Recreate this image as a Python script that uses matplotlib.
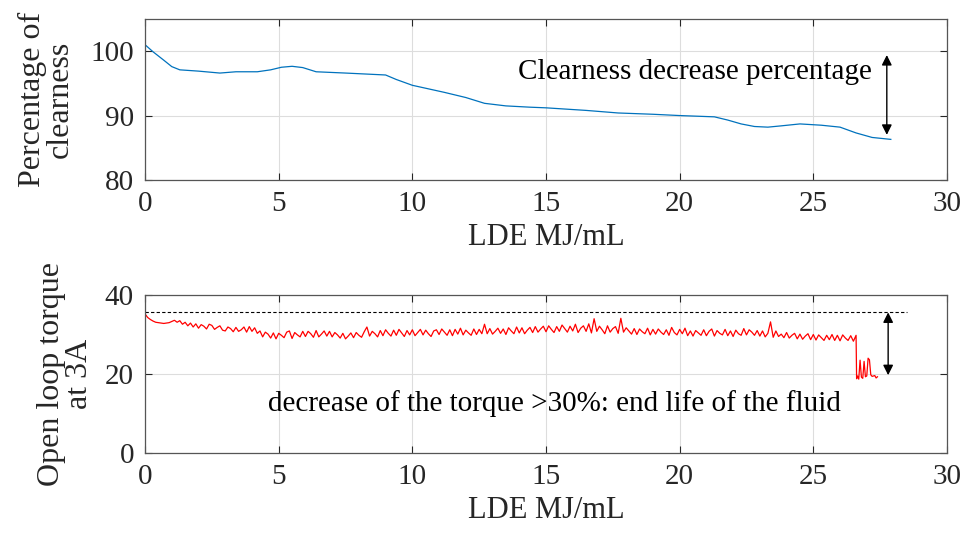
import matplotlib.pyplot as plt
import numpy as np

plt.rcParams['font.family'] = ['Liberation Serif', 'DejaVu Serif']

# clearness curve (top)
lde_clear = [0, 0.3, 0.7, 1.0, 1.3, 2.0, 2.8, 3.4, 4.2, 4.7, 5.1, 5.5, 5.9, 6.4, 7.5,
             9.0, 9.4, 10.0, 11.2, 12.0, 12.7, 13.5, 14.4, 15.0, 16.5, 17.7, 19.0, 20.0,
             21.3, 21.8, 22.3, 22.8, 23.3, 23.8, 24.5, 25.3, 26.0, 26.6, 27.2, 27.9]
clearness = [101.0, 99.9, 98.6, 97.6, 97.1, 96.9, 96.6, 96.8, 96.8, 97.1, 97.5, 97.65, 97.45,
             96.8, 96.6, 96.3, 95.6, 94.7, 93.6, 92.8, 91.9, 91.5, 91.3, 91.2, 90.8, 90.4,
             90.2, 90.0, 89.8, 89.3, 88.7, 88.3, 88.2, 88.4, 88.7, 88.5, 88.2, 87.3, 86.6, 86.3]

# open loop torque (bottom), sampled every 0.1 MJ/mL up to the drop
torque_main = [
    35.2, 34.3, 33.8, 33.4, 33.1, 33.0, 32.9, 32.8, 32.9, 33.0,
    33.3, 33.6, 33.1, 33.5, 32.6, 33.1, 32.2, 32.9, 31.9, 32.7,
    31.6, 32.5, 32.1, 31.4, 32.6, 32.3, 31.3, 31.8, 32.2, 31.1,
    30.9, 31.9, 31.5, 30.7, 31.8, 30.8, 31.2, 31.9, 30.6, 32.0,
    30.8, 31.7, 30.3, 30.9, 29.4, 30.6, 30.1, 29.1, 30.4, 28.9,
    30.3, 29.8, 29.2, 30.6, 30.9, 29.0, 30.5, 29.9, 29.4, 30.8,
    29.5, 30.8, 30.2, 29.3, 31.0, 29.4, 30.1, 30.9, 29.6, 30.8,
    29.4, 30.5, 29.9, 29.1, 30.3, 28.9, 29.6, 30.4, 29.2, 30.5,
    29.8, 29.3, 30.7, 31.9, 29.6, 30.8, 30.2, 29.4, 31.0, 29.7,
    31.2, 30.3, 29.6, 31.1, 29.8, 31.3, 30.4, 29.5, 31.0, 29.9,
    31.2, 29.7, 30.5, 31.3, 29.9, 31.1, 30.2, 29.5, 30.9, 31.2,
    30.0, 31.4, 30.6, 29.8, 31.2, 29.7, 31.3, 30.1, 31.6, 29.9,
    31.1, 30.4, 29.8, 31.4, 30.0, 31.3, 30.2, 32.6, 30.2, 31.5,
    30.1, 30.8, 31.6, 30.3, 31.4, 30.0, 31.7, 30.9, 30.2, 31.9,
    30.4, 31.7, 30.2, 31.1, 31.8, 30.5, 32.0, 30.6, 31.4, 32.1,
    30.7, 32.2, 31.3, 30.5, 32.0, 30.8, 32.4, 31.5, 30.6, 32.1,
    30.9, 32.6, 30.5, 31.6, 32.2, 30.8, 32.7, 30.4, 34.0, 30.8,
    32.1, 31.2, 30.2, 32.2, 30.6, 31.5, 32.0, 30.3, 34.1, 30.6,
    31.7, 30.9, 30.1, 31.5, 30.0, 31.4, 30.7, 30.2, 31.6, 29.9,
    31.3, 30.1, 31.4, 30.6, 30.0, 31.2, 29.8, 31.8, 30.5, 29.9,
    31.3, 30.2, 31.6, 29.7, 30.9, 29.6, 31.0, 30.4, 29.8, 31.2,
    29.7, 30.8, 31.4, 29.6, 31.0, 30.3, 29.9, 31.3, 29.7, 30.9,
    29.5, 31.1, 30.2, 29.8, 31.5, 29.9, 31.2, 30.6, 29.8, 31.0,
    29.6, 30.9, 29.4, 30.3, 33.2, 29.3, 30.9, 29.5, 30.1, 29.2,
    30.5, 29.1, 29.8, 30.3, 28.9, 30.1, 28.8, 29.6, 30.2, 28.7,
    30.0, 28.6, 29.9, 29.2, 28.5, 29.8, 28.7, 30.0, 28.5, 29.8,
    28.4, 29.9, 29.1, 28.5, 29.7, 28.3, 29.8,
]
lde_main = np.arange(len(torque_main)) * 0.1

# end of life segment
lde_tail = [26.62, 26.66, 26.70, 26.75, 26.80, 26.85, 26.90, 26.95, 27.00, 27.05,
            27.10, 27.15, 27.20, 27.30, 27.35, 27.40]
torque_tail = [18.8, 19.5, 18.7, 23.5, 19.2, 18.9, 23.2, 19.3, 19.5, 24.0,
               23.6, 19.8, 19.4, 19.6, 19.0, 19.3]

lde_torque = np.concatenate([lde_main, lde_tail])
torque = np.concatenate([torque_main, torque_tail])

ref_torque = 35.6
xticks = [0, 5, 10, 15, 20, 25, 30]

fig = plt.figure(figsize=(9.65, 5.42), dpi=100)
ax1 = fig.add_axes([0.1503, 0.668, 0.831, 0.297])
ax2 = fig.add_axes([0.1503, 0.1642, 0.831, 0.2915])

axcol = '#262626'
for ax in (ax1, ax2):
    ax.set_xlim(0, 30)
    ax.set_xticks(xticks)
    ax.grid(True, color='#dddddd', linewidth=0.8)
    ax.set_axisbelow(True)
    ax.tick_params(direction='in', top=True, right=True, labelsize=21,
                   colors=axcol, length=5, pad=8)
    for s in ax.spines.values():
        s.set_color('#555555')
        s.set_linewidth(0.9)
    ax.set_xlabel('LDE MJ/mL', fontsize=22, color=axcol, labelpad=4)

# top
ax1.plot(lde_clear, clearness, color='#0072BD', linewidth=0.9)
ax1.set_ylim(80, 105)
ax1.set_yticks([80, 90, 100])
ax1.set_ylabel('Percentage of\nclearness', fontsize=23, color=axcol,
               linespacing=0.95, labelpad=11)
ax1.annotate('', xy=(27.75, 87.0), xytext=(27.75, 99.4),
             arrowprops=dict(arrowstyle='<|-|>', color='black', lw=1.0,
                             mutation_scale=15, shrinkA=0, shrinkB=0))
ax1.text(27.2, 96.8, 'Clearness decrease percentage', fontsize=21,
         ha='right', va='center', color='black')

# bottom
ax2.plot(lde_torque, torque, color='red', linewidth=0.9)
ax2.plot([0, 28.5], [ref_torque, ref_torque], color='black', linestyle='--',
         linewidth=0.8, dashes=(3, 2))
ax2.set_ylim(0, 40)
ax2.set_yticks([0, 20, 40])
ax2.set_ylabel('Open loop torque\nat 3A', fontsize=23, color=axcol,
               linespacing=0.95, labelpad=8)
ax2.annotate('', xy=(27.8, 19.7), xytext=(27.8, ref_torque),
             arrowprops=dict(arrowstyle='<|-|>', color='black', lw=1.0,
                             mutation_scale=15, shrinkA=0, shrinkB=0))
ax2.text(15.3, 12.5, 'decrease of the torque >30%: end life of the fluid',
         fontsize=21, ha='center', va='center', color='black')

fig.savefig('out.png', dpi=100)
